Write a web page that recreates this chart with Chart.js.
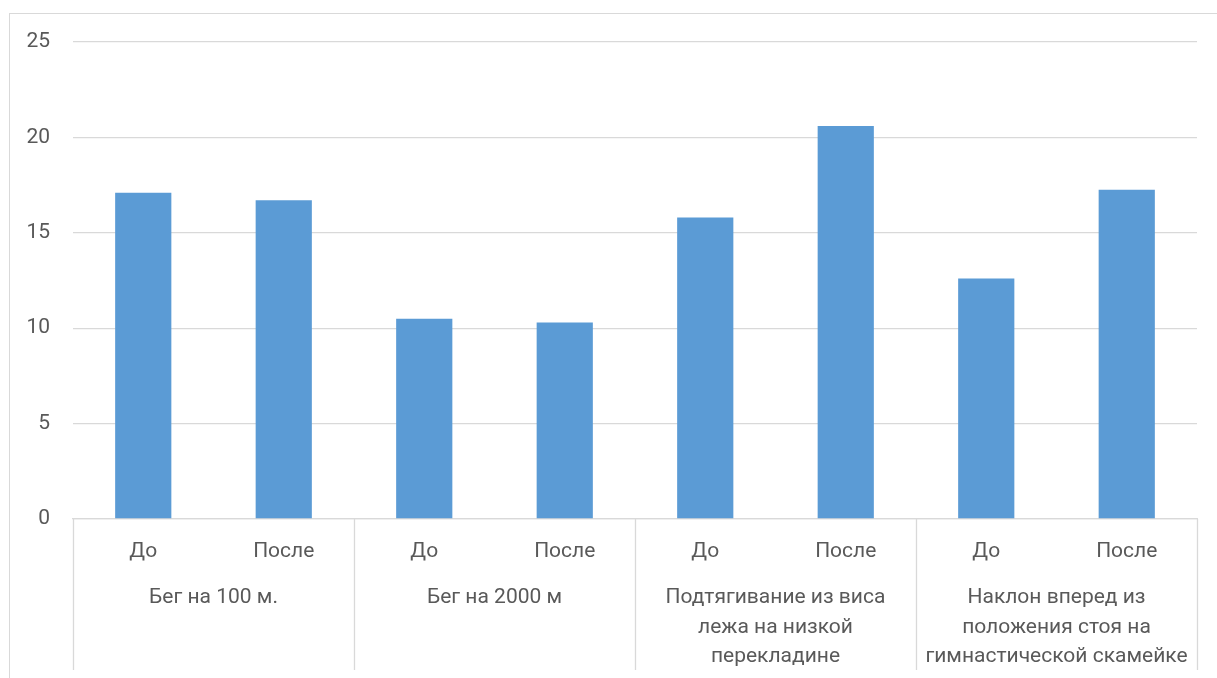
<!DOCTYPE html>
<html>
<head>
<meta charset="utf-8">
<script src="https://cdn.jsdelivr.net/npm/chart.js@4/dist/chart.umd.min.js"></script>
<style>
  html, body { margin: 0; padding: 0; background: #fff; overflow: hidden; }
  #frame {
    position: absolute; left: 9px; top: 13px; width: 1240px; height: 700px;
    border: 1px solid #d9d9d9; box-sizing: border-box;
  }
  #c { position: absolute; left: 0; top: 0; }
</style>
</head>
<body>
<div id="frame"></div>
<canvas id="c" width="1217" height="678"></canvas>
<script>
// Test groups and the two measurements inside each group
const groups = [
  'Бег на 100 м.',
  'Бег на 2000 м',
  ['Подтягивание из виса', 'лежа на низкой', 'перекладине'],
  ['Наклон вперед из', 'положения стоя на', 'гимнастической скамейке']
];
const phases = ['До', 'После'];
const values = [17.1, 16.7, 10.5, 10.3, 15.8, 20.6, 12.6, 17.25];
const yTicks = [0, 5, 10, 15, 20, 25];

const categories = [];
groups.forEach(() => phases.forEach(p => categories.push(p)));

const textColor = '#595959';
const lineColor = '#d9d9d9';
const font = { family: 'Roboto', size: 21 };

// Vertical separators between the test groups below the axis
const groupDividers = {
  id: 'groupDividers',
  afterDraw(chart) {
    const x = chart.scales.x;
    const x2 = chart.scales.x2;
    const area = chart.chartArea;
    const per = phases.length;
    const edges = [area.left];
    for (let g = 1; g < groups.length; g++) {
      const i = g * per;
      edges.push((x.getPixelForValue(i - 1) + x.getPixelForValue(i)) / 2);
    }
    edges.push(area.right);
    const ctx = chart.ctx;
    ctx.save();
    ctx.strokeStyle = lineColor;
    ctx.lineWidth = 1.3;
    ctx.beginPath();
    edges.forEach(px => {
      const xx = Math.round(px) + 0.5;
      ctx.moveTo(xx, area.bottom);
      ctx.lineTo(xx, x2.bottom);
    });
    ctx.stroke();
    ctx.restore();
  }
};

new Chart(document.getElementById('c'), {
  type: 'bar',
  data: {
    labels: categories,
    datasets: [{
      data: values,
      backgroundColor: '#5b9bd5',
      borderWidth: 0,
      barPercentage: 0.8,
      categoryPercentage: 0.5
    }]
  },
  options: {
    responsive: false,
    animation: false,
    devicePixelRatio: 1,
    layout: { padding: { top: 42, right: 20, bottom: 8, left: 0 } },
    plugins: { legend: { display: false }, tooltip: { enabled: false } },
    scales: {
      x: {
        type: 'category',
        weight: 0,
        grid: { display: false, drawTicks: false },
        border: { display: true, color: lineColor, width: 1.3 },
        ticks: {
          color: textColor, font: { ...font, lineHeight: 1.2 },
          padding: 20, maxRotation: 0, minRotation: 0, autoSkip: false
        },
        afterFit(s) { s.height = 56; }
      },
      x2: {
        type: 'category',
        position: 'bottom',
        weight: 1,
        labels: groups,
        grid: { display: false, drawTicks: false },
        border: { display: false },
        ticks: {
          color: textColor, font: { ...font, lineHeight: 1.405 },
          padding: 8, maxRotation: 0, minRotation: 0, autoSkip: false
        },
        afterFit(s) { s.height = 95; }
      },
      y: {
        min: yTicks[0],
        max: yTicks[yTicks.length - 1],
        afterBuildTicks(s) { s.ticks = yTicks.map(v => ({ value: v })); },
        grid: { color: lineColor, lineWidth: 1.3, drawTicks: false },
        border: { display: false },
        ticks: { color: textColor, font, padding: 23 },
        afterFit(s) { s.width = 73; }
      }
    }
  },
  plugins: [groupDividers]
});
</script>
</body>
</html>
